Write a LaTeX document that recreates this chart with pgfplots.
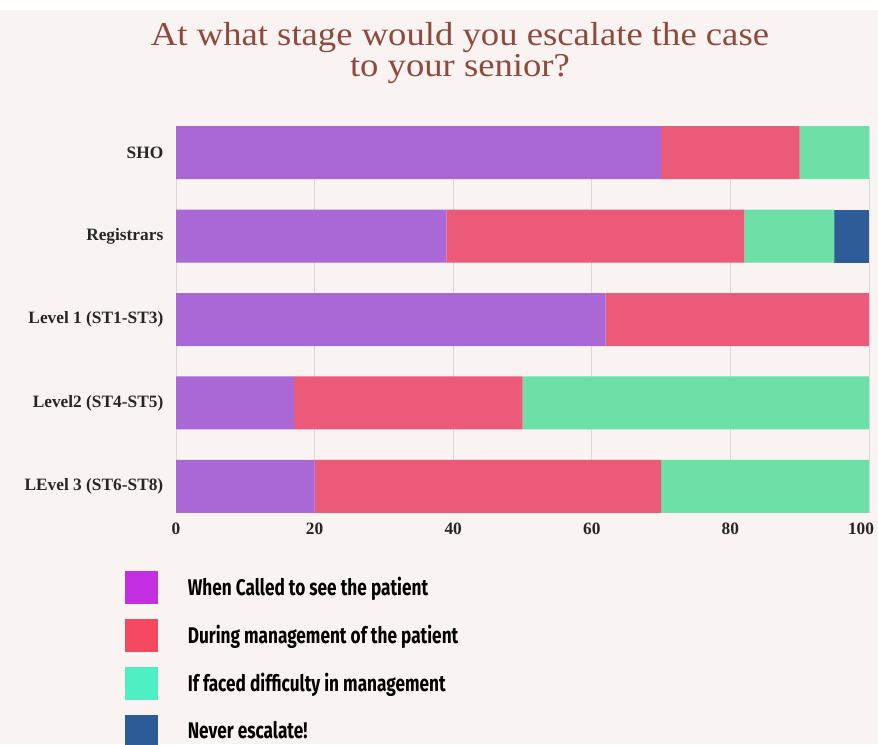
\documentclass[border=0pt]{standalone}
\usepackage{pgfplots}
\pgfplotsset{compat=1.18}
\usepackage{fontspec}
\setmainfont{Liberation Serif}
\newfontfamily\legfont[FakeStretch=0.76]{Fira Sans}
\newfontfamily\tickfont{Liberation Serif}
\newfontfamily\titlefont[FakeStretch=1.1]{Liberation Serif}
\definecolor{bg}{HTML}{F9F4F1}
\definecolor{titlebrown}{HTML}{8E4A3C}
\definecolor{cpurple}{HTML}{A968D6}
\definecolor{cred}{HTML}{EB5B79}
\definecolor{cgreen}{HTML}{6DE0A8}
\definecolor{cblue}{HTML}{2D5C97}
\definecolor{lpurple}{HTML}{C22EE0}
\definecolor{lred}{HTML}{F44860}
\definecolor{lgreen}{HTML}{4DEFC3}
\definecolor{lblue}{HTML}{2C5B97}
\begin{document}
\begin{tikzpicture}[x=1pt,y=1pt]
\path[use as bounding box] (0,0) rectangle (658.5,558);
\fill[bg] (0,0) rectangle (658.5,558);
\fill[white] (0,550.5) rectangle (658.5,558);
\node[align=center, text=titlebrown, font=\titlefont\fontsize{25}{23}\selectfont] at (345,518) {At what stage would you escalate the case\\to your senior?};
\begin{axis}[
  at={(132pt,173.25pt)}, anchor=south west,
  scale only axis, width=519.75pt, height=290.25pt,
  xbar stacked, bar width=39.75pt,
  xmin=0, xmax=100, ymin=-0.32, ymax=4.32, y dir=reverse,
  ytick={0,1,2,3,4},
  yticklabels={SHO,Registrars,Level 1 (ST1-ST3),Level2 (ST4-ST5),LEvel 3 (ST6-ST8)},
  xtick={0,20,40,60,80,100},
  xticklabels={0,20,40,60,80,{\kern-12pt 100}},
  xmajorgrids, grid style={gray!30, line width=0.6pt},
  axis line style={draw=none}, major tick length=0pt,
  tick label style={font=\tickfont\bfseries\fontsize{13}{13}\selectfont, text=black!85},
  yticklabel style={xshift=-6pt},
  xticklabel style={yshift=-4pt},
  legend style={at={(-0.0736,-0.149)}, anchor=north west, draw=none, fill=none,
    font=\legfont\bfseries\fontsize{17}{17}\selectfont, row sep=11.6pt, inner sep=0pt,
    cells={anchor=west}, /tikz/every odd column/.append style={column sep=20.5pt}},
  legend cell align=left,
]
\addplot[fill=cpurple, draw=none, forget plot] coordinates {(70,0) (39,1) (62,2) (17,3) (20,4)};
\addplot[fill=cred, draw=none, forget plot] coordinates {(20,0) (43,1) (38,2) (33,3) (50,4)};
\addplot[fill=cgreen, draw=none, forget plot] coordinates {(10,0) (13,1) (0,2) (50,3) (30,4)};
\addplot[fill=cblue, draw=none, forget plot] coordinates {(0,0) (5,1) (0,2) (0,3) (0,4)};
\addlegendimage{legend image code/.code={\fill[lpurple] (0pt,-12pt) rectangle (24pt,12pt);}}
\addlegendentry{When Called to see the patient}
\addlegendimage{legend image code/.code={\fill[lred] (0pt,-12pt) rectangle (24pt,12pt);}}
\addlegendentry{During management of the patient}
\addlegendimage{legend image code/.code={\fill[lgreen] (0pt,-12pt) rectangle (24pt,12pt);}}
\addlegendentry{If faced difficulty in management}
\addlegendimage{legend image code/.code={\fill[lblue] (0pt,-12pt) rectangle (24pt,12pt);}}
\addlegendentry{Never escalate!}
\end{axis}
\end{tikzpicture}
\end{document}
